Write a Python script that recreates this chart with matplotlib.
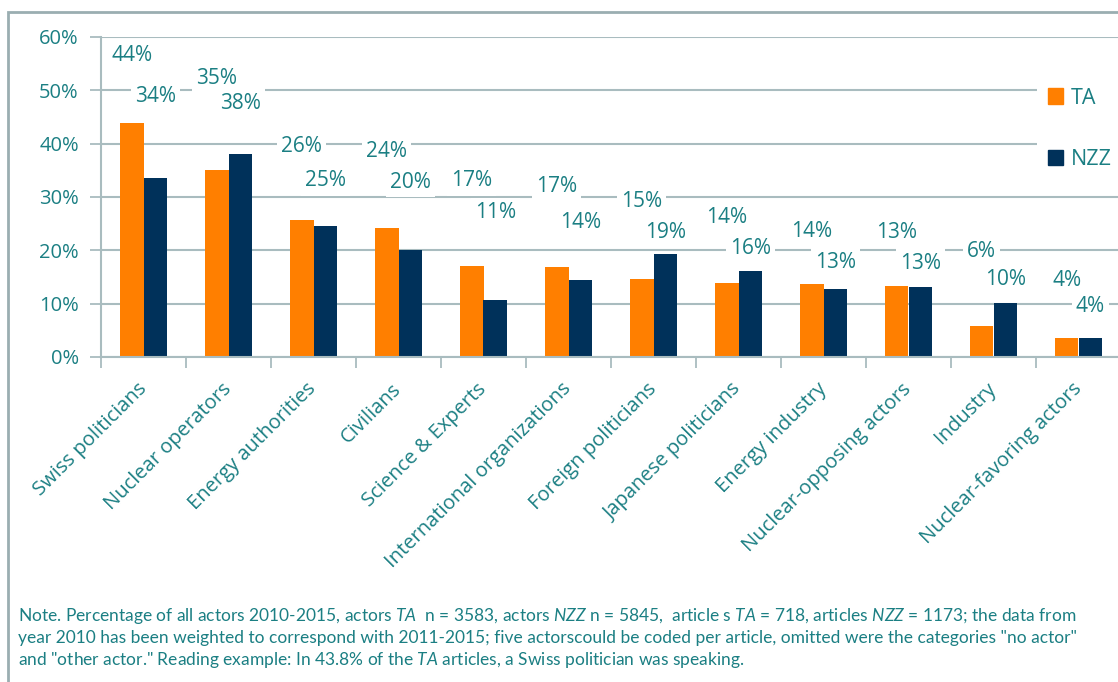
import numpy as np
import matplotlib
matplotlib.use("Agg")
import matplotlib.pyplot as plt
from matplotlib.patches import Rectangle, Patch

# data
categories = ["Swiss politicians", "Nuclear operators", "Energy authorities", "Civilians",
              "Science & Experts", "International organizations", "Foreign politicians",
              "Japanese politicians", "Energy industry", "Nuclear-opposing actors",
              "Industry", "Nuclear-favoring actors"]
ta = [43.8, 35.1, 25.7, 24.1, 17.1, 16.9, 14.6, 13.9, 13.6, 13.3, 5.8, 3.6]
nzz = [33.5, 38.0, 24.6, 20.1, 10.6, 14.4, 19.3, 16.2, 12.7, 13.1, 10.2, 3.5]

# where Excel put the value labels (data units)
ta_label_y = [56.6, 52.3, 39.4, 38.6, 33.0, 31.9, 29.1, 26.1, 23.6, 23.3, 19.7, 14.4]
nzz_label_y = [48.8, 47.6, 33.0, 32.8, 27.0, 25.3, 23.4, 20.4, 17.8, 17.6, 14.6, 9.4]

note = ("Note. Percentage of all actors 2010-2015, actors $\\mathit{TA}$  n = 3583, actors $\\mathit{NZZ}$ n = 5845,  "
        "article s $\\mathit{TA}$ = 718, articles $\\mathit{NZZ}$ = 1173; the data from\n"
        "year 2010 has been weighted to correspond with 2011-2015; five actorscould be coded per article, "
        "omitted were the categories \"no actor\"\n"
        "and \"other actor.\" Reading example: In 43.8% of the $\\mathit{TA}$ articles, a Swiss politician was speaking.")

orange = "#FF7F00"
navy = "#00315A"
teal = "#1B7F83"
grid_c = "#A9BCBF"

plt.rcParams["font.family"] = ["Open Sans", "DejaVu Sans"]
plt.rcParams["mathtext.fontset"] = "custom"
plt.rcParams["mathtext.it"] = "Lato:italic"
plt.rcParams["mathtext.rm"] = "Lato"

W, H = 1118, 682
fig = plt.figure(figsize=(W / 100, H / 100), dpi=100)

# outer frame
fig.patches.append(Rectangle((8 / W, -0.05), 1.1, 1 - 12 / H + 0.05, transform=fig.transFigure,
                             fill=False, edgecolor="#9AAEB1", linewidth=2))

ax = fig.add_axes([101 / W, (H - 357) / H, 1020 / W, 320 / H])
x = np.arange(len(categories))
w = 0.28
ax.bar(x - w / 2, ta, w, color=orange, zorder=2)
ax.bar(x + w / 2, nzz, w, color=navy, zorder=2)

for i in range(len(categories)):
    ax.text(x[i] - w / 2, ta_label_y[i], f"{ta[i]:.0f}%", ha="center", va="center",
            fontsize=15, color=teal, zorder=3,
            bbox=dict(facecolor="white", edgecolor="none", pad=3))
    ax.text(x[i] + w / 2, nzz_label_y[i], f"{nzz[i]:.0f}%", ha="center", va="center",
            fontsize=15, color=teal, zorder=3,
            bbox=dict(facecolor="white", edgecolor="none", pad=3))

ax.set_xlim(-0.5, len(categories) - 0.5)
ax.set_ylim(0, 60)
ax.set_yticks(np.arange(0, 61, 10))
ax.set_yticklabels([f"{v}%" for v in range(0, 61, 10)])
ax.set_xticks(np.arange(len(categories) + 1) - 0.5)
ax.set_xticklabels([])
ax.set_xticks(x, categories, minor=True)
ax.tick_params(axis="x", which="minor", length=0, pad=21)
ax.tick_params(axis="x", which="major", length=8, color=grid_c, width=1.3)
ax.tick_params(axis="y", length=8, color=grid_c, width=1.3, pad=8)
for lab in ax.get_xticklabels(minor=True):
    lab.set_rotation(45)
    lab.set_ha("right")
    lab.set_va("center")
    lab.set_rotation_mode("anchor")
    lab.set_color(teal)
    lab.set_fontsize(14.5)
for lab in ax.get_yticklabels():
    lab.set_color(teal)
    lab.set_fontsize(14.5)

ax.yaxis.grid(True, color=grid_c, linewidth=1.5, zorder=0)
ax.set_axisbelow(True)
for s in ["top", "right"]:
    ax.spines[s].set_visible(False)
for s in ["left", "bottom"]:
    ax.spines[s].set_color(grid_c)
    ax.spines[s].set_linewidth(1.5)

handles = [Patch(color=orange, label="TA"), Patch(color=navy, label="NZZ")]
leg = fig.legend(handles=handles, loc="upper left", bbox_to_anchor=(1026 / W, 1 - 66 / H),
                 frameon=True, facecolor="white", edgecolor="none", framealpha=1,
                 fontsize=15.5, labelspacing=1.9, handlelength=0.7, handleheight=0.7,
                 handletextpad=0.4, borderpad=0.5)
for t in leg.get_texts():
    t.set_color(teal)

fig.text(18 / W, 1 - 606 / H, note, ha="left", va="top", fontsize=12.5, color=teal,
         family=["Lato", "DejaVu Sans"], linespacing=1.27)

fig.savefig("out.png", dpi=100)
